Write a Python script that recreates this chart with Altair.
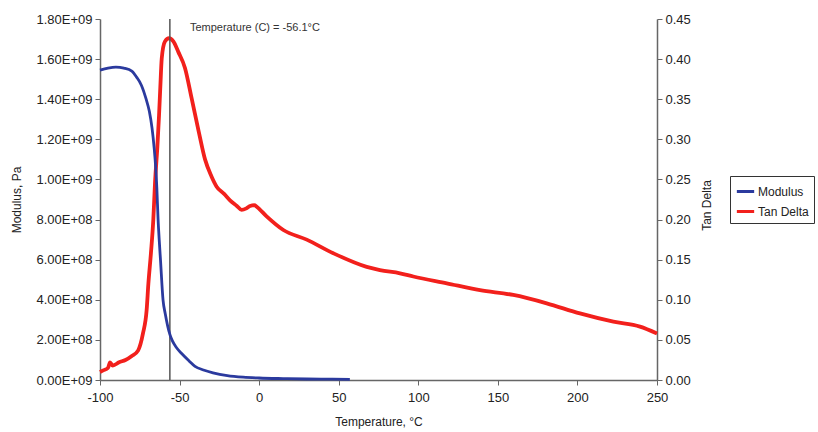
import altair as alt
import pandas as pd

FONT = "Liberation Sans"

# ---- data ----
mod_temp = [-100, -95, -90, -85, -80, -77, -74, -71, -69, -67.3, -66, -65, -64.3, -63.5, -62.8,
            -62, -60.4, -59, -57.5, -56, -54.5, -52, -48.7, -44, -40.3, -35, -29, -20, -10, 0,
            15, 30, 45, 57]
mod_val = [1.545e9, 1.555e9, 1.56e9, 1.555e9, 1.54e9, 1.51e9, 1.47e9, 1.40e9, 1.34e9, 1.256e9,
           1.16e9, 1.06e9, 0.96e9, 0.80e9, 0.70e9, 0.60e9, 0.40e9, 0.33e9, 0.27e9, 0.225e9,
           0.195e9, 0.162e9, 0.132e9, 0.095e9, 0.068e9, 0.05e9, 0.036e9, 0.022e9, 0.014e9,
           0.01e9, 0.007e9, 0.005e9, 0.004e9, 0.003e9]

td_temp = [-100, -98, -95, -93.7, -92, -88, -84, -80, -76, -73, -70.7, -69.6, -68, -66.5, -65.4,
           -64, -62.9, -62.1, -61.2, -59.2, -56.6, -53.9, -50.8, -46.6, -42.4, -38, -34, -30,
           -26.7, -22, -18.3, -14, -11, -8, -5.7, -3, -1.5, 4.7, 15.2, 29.9, 46.6, 67.6, 75.9,
           88.5, 96.9, 117.9, 138.8, 159.7, 180.7, 201.6, 222.6, 239.3, 250]
td_val = [0.010, 0.012, 0.015, 0.022, 0.018, 0.022, 0.025, 0.030, 0.037, 0.058, 0.087, 0.12,
          0.158, 0.2, 0.247, 0.289, 0.33, 0.365, 0.401, 0.422, 0.426, 0.422, 0.409, 0.389, 0.351,
          0.31, 0.275, 0.254, 0.241, 0.232, 0.224, 0.217, 0.212, 0.214, 0.217, 0.218, 0.216,
          0.204, 0.187, 0.175, 0.158, 0.141, 0.137, 0.133, 0.129, 0.1205, 0.112, 0.106, 0.0956,
          0.083, 0.0727, 0.0665, 0.058]

series_names = ["Modulus", "Tan Delta"]
series_colors = ["#2b3a9e", "#f2201c"]

peak_temp = -56.1
annot_x = [-43.5]
annot_y = [0.439]
annot_text = [f"Temperature (C) = {peak_temp}°C"]

x_ticks = [-100, -50, 0, 50, 100, 150, 200, 250]
mod_ticks = [0, 200000000, 400000000, 600000000, 800000000, 1000000000,
             1200000000, 1400000000, 1600000000, 1800000000]
td_ticks = [0.0, 0.05, 0.10, 0.15, 0.20, 0.25, 0.30, 0.35, 0.40, 0.45]

mod_df = pd.DataFrame({"T": mod_temp, "v": mod_val, "series": series_names[0]})
td_df = pd.DataFrame({"T": td_temp, "v": td_val, "series": series_names[1]})
rule_df = pd.DataFrame({"T": [peak_temp]})
annot_df = pd.DataFrame({"T": annot_x, "v": annot_y, "label": annot_text})

x_enc = alt.X("T:Q", scale=alt.Scale(domain=[-100, 250], nice=False),
              axis=alt.Axis(values=x_ticks, title="Temperature, °C", titlePadding=12,
                            labelPadding=6, tickSize=5, labelFlush=False,
                            labelExpr="'' + datum.value"))

color_enc = alt.Color("series:N",
                      scale=alt.Scale(domain=series_names, range=series_colors),
                      legend=alt.Legend(title=None, orient="none", legendX=630, legendY=157,
                                        symbolType="stroke", symbolStrokeWidth=3,
                                        symbolSize=300, labelFontSize=12, labelFont=FONT,
                                        labelColor="#222", strokeColor="#333",
                                        fillColor="white", padding=5, rowPadding=3,
                                        labelOffset=2))

mod_line = alt.Chart(mod_df).mark_line(strokeWidth=2.8, interpolate="monotone").encode(
    x=x_enc,
    y=alt.Y("v:Q", scale=alt.Scale(domain=[0, 1.8e9], nice=False),
            axis=alt.Axis(values=mod_ticks, title="Modulus, Pa", orient="left",
                          labelExpr="datum.value == 0 ? '0.00E+09' : (datum.value >= 999999999 ? format(datum.value/1e9, '.2f') + 'E+09' : format(datum.value/1e8, '.2f') + 'E+08')",
                          titlePadding=12, labelPadding=3, tickSize=5, labelFlush=False)),
    color=color_enc,
)

td_line = alt.Chart(td_df).mark_line(strokeWidth=3.8, interpolate="monotone").encode(
    x=x_enc,
    y=alt.Y("v:Q", scale=alt.Scale(domain=[0, 0.45], nice=False),
            axis=alt.Axis(values=td_ticks, format=".2f", title="Tan Delta", orient="right",
                          titleAngle=270, titleX=49, titleY=186, titleAlign="center",
                          titleBaseline="middle", labelPadding=3, tickSize=5,
                          labelFlush=False)),
    color=color_enc,
)

rule = alt.Chart(rule_df).mark_rule(color="#555", strokeWidth=1.5).encode(x="T:Q")

annot = alt.Chart(annot_df).mark_text(align="left", baseline="middle", font=FONT,
                                      fontSize=11, color="#333").encode(
    x="T:Q", y="v:Q", text="label:N")

td_group = alt.layer(td_line, rule, annot)

chart = alt.layer(td_group, mod_line).resolve_scale(y="independent").properties(
    width=557, height=361,
    autosize=alt.AutoSizeParams(type="none"),
    padding={"left": 100, "top": 19, "right": 161, "bottom": 52},
).configure_view(strokeWidth=0).configure_axis(
    grid=False, labelFont=FONT, titleFont=FONT, labelFontSize=13, titleFontSize=12,
    labelColor="#222", titleColor="#222", domainColor="#666", tickColor="#666",
    domainWidth=1.5, titleFontWeight="normal",
)

chart.save("out.html", embed_options={"renderer": "svg", "actions": False})
